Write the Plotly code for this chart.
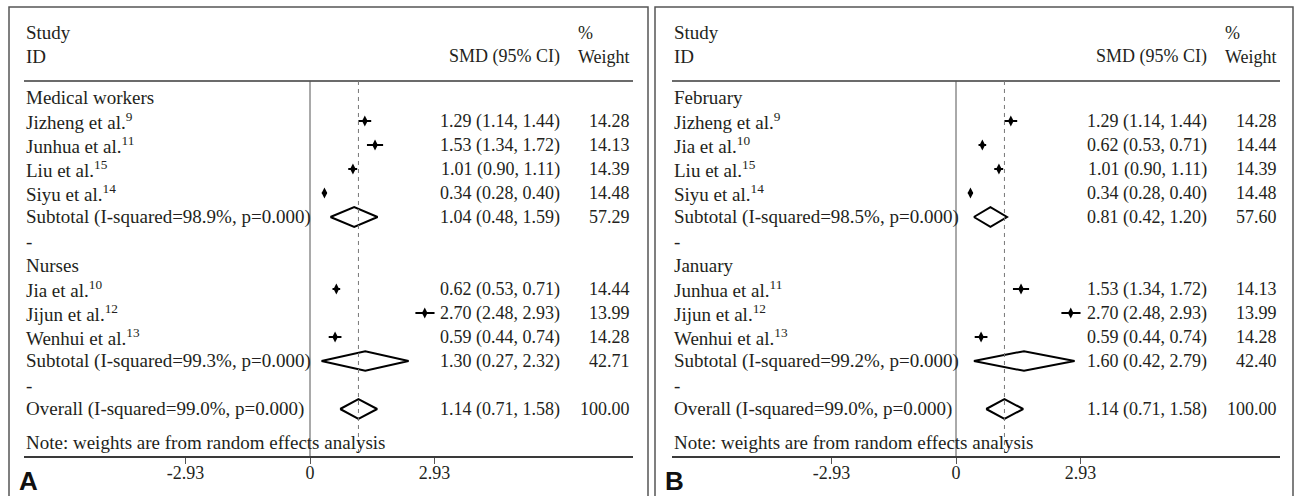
import plotly.graph_objects as go

W, H = 1295, 496

# ---------------- Panel A: subgroups by occupation ----------------
a_groups = ["Medical workers", "Nurses"]
a_studies = ["Jizheng et al.<sup>9</sup>", "Junhua et al.<sup>11</sup>",
             "Liu et al.<sup>15</sup>", "Siyu et al.<sup>14</sup>",
             "Jia et al.<sup>10</sup>", "Jijun et al.<sup>12</sup>",
             "Wenhui et al.<sup>13</sup>"]
a_group_of = [0, 0, 0, 0, 1, 1, 1]
a_smd = [1.29, 1.53, 1.01, 0.34, 0.62, 2.70, 0.59]
a_lo = [1.14, 1.34, 0.90, 0.28, 0.53, 2.48, 0.44]
a_hi = [1.44, 1.72, 1.11, 0.40, 0.71, 2.93, 0.74]
a_wt = [14.28, 14.13, 14.39, 14.48, 14.44, 13.99, 14.28]
a_sub_i2 = [98.9, 99.3]
a_sub_p = [0.000, 0.000]
a_sub_smd = [1.04, 1.30]
a_sub_lo = [0.48, 0.27]
a_sub_hi = [1.59, 2.32]
a_sub_wt = [57.29, 42.71]

# ---------------- Panel B: subgroups by survey month ----------------
b_groups = ["February", "January"]
b_studies = ["Jizheng et al.<sup>9</sup>", "Jia et al.<sup>10</sup>",
             "Liu et al.<sup>15</sup>", "Siyu et al.<sup>14</sup>",
             "Junhua et al.<sup>11</sup>", "Jijun et al.<sup>12</sup>",
             "Wenhui et al.<sup>13</sup>"]
b_group_of = [0, 0, 0, 0, 1, 1, 1]
b_smd = [1.29, 0.62, 1.01, 0.34, 1.53, 2.70, 0.59]
b_lo = [1.14, 0.53, 0.90, 0.28, 1.34, 2.48, 0.44]
b_hi = [1.44, 0.71, 1.11, 0.40, 1.72, 2.93, 0.74]
b_wt = [14.28, 14.44, 14.39, 14.48, 14.13, 13.99, 14.28]
b_sub_i2 = [98.5, 99.2]
b_sub_p = [0.000, 0.000]
b_sub_smd = [0.81, 1.60]
b_sub_lo = [0.42, 0.42]
b_sub_hi = [1.20, 2.79]
b_sub_wt = [57.60, 42.40]

# ---------------- Pooled estimate (both panels) ----------------
overall_i2 = 99.0
overall_p = 0.000
overall_smd = 1.14
overall_lo = 0.71
overall_hi = 1.58
overall_wt = 100.00

tick_vals = [-2.93, 0, 2.93]
tick_text = ["-2.93", "0", "2.93"]
panel_letters = ["A", "B"]

# ---------------- styling ----------------
SERIF = "Liberation Serif, Times New Roman, serif"
INK = "#231f20"
LINE = "#3a3a3a"
LABEL_SIZE = 19
NUM_SIZE = 18

# row geometry (pixel positions from the top of the canvas)
ROW0_PX, ROW_H, AXIS_PX, TOP_PX = 97, 24, 456, 7
AXIS_ROW = (AXIS_PX - ROW0_PX) / ROW_H
TOP_ROW = (TOP_PX - ROW0_PX) / ROW_H
HEAD_LINE_ROW = -0.667
DIAMOND_HALF = 0.41

# horizontal placement of each panel (pixels)
panels_px = [
    dict(left=24, right=633, zero=310, box=(9, 648)),
    dict(left=672, right=1280, zero=956, box=(655, 1293)),
]
PX_PER_UNIT = 42.5
SMD_COL = 0.8834     # right edge of the SMD column, fraction of the axis width
WT_COL = 0.999       # right edge of the weight column
PCT_COL = 0.906      # left edge of the "%" header

fig = go.Figure()
shapes, annotations = [], []


def fmt_ci(est, lo, hi):
    return f"{est:.2f} ({lo:.2f}, {hi:.2f})"


def add_text(text, xref, x, y, yref, anchor="left", size=LABEL_SIZE):
    annotations.append(dict(
        text=text, x=x, y=y, xref=xref, yref=yref, xanchor=anchor,
        yanchor="middle", showarrow=False,
        font=dict(family=SERIF, size=size, color=INK)))


def diamond(est, lo, hi, row, xa, ya):
    fig.add_trace(go.Scatter(
        x=[lo, est, hi, est, lo],
        y=[row, row - DIAMOND_HALF, row, row + DIAMOND_HALF, row],
        mode="lines", line=dict(color="black", width=2),
        hoverinfo="skip", showlegend=False, xaxis=xa, yaxis=ya))


def build_panel(k, groups, studies, group_of, smd, lo, hi, wt,
                sub_i2, sub_p, sub_smd, sub_lo, sub_hi, sub_wt):
    sfx = "" if k == 0 else str(k + 1)
    xa, ya = "x" + sfx, "y" + sfx
    xdom = xa + " domain"
    geo = panels_px[k]

    # header
    add_text("Study", xdom, 0, -2.67, ya)
    add_text("ID", xdom, 0, -1.67, ya)
    add_text("SMD (95% CI)", xdom, SMD_COL, -1.67, ya, "right", NUM_SIZE)
    add_text("%", xdom, PCT_COL, -2.67, ya, "left", NUM_SIZE)
    add_text("Weight", xdom, WT_COL, -1.67, ya, "right", NUM_SIZE)

    row = 0
    st_rows = []
    for g, name in enumerate(groups):
        add_text(name, xdom, 0, row, ya)
        row += 1
        for i, lab in enumerate(studies):
            if group_of[i] != g:
                continue
            add_text(lab, xdom, 0, row, ya)
            add_text(fmt_ci(smd[i], lo[i], hi[i]), xdom, SMD_COL, row, ya, "right", NUM_SIZE)
            add_text(f"{wt[i]:.2f}", xdom, WT_COL, row, ya, "right", NUM_SIZE)
            st_rows.append((i, row))
            row += 1
        add_text(f"Subtotal (I-squared={sub_i2[g]:.1f}%, p={sub_p[g]:.3f})", xdom, 0, row, ya)
        add_text(fmt_ci(sub_smd[g], sub_lo[g], sub_hi[g]), xdom, SMD_COL, row, ya, "right", NUM_SIZE)
        add_text(f"{sub_wt[g]:.2f}", xdom, WT_COL, row, ya, "right", NUM_SIZE)
        diamond(sub_smd[g], sub_lo[g], sub_hi[g], row, xa, ya)
        row += 1
        add_text("-", xdom, 0, row, ya)
        row += 1

    add_text(f"Overall (I-squared={overall_i2:.1f}%, p={overall_p:.3f})", xdom, 0, row, ya)
    add_text(fmt_ci(overall_smd, overall_lo, overall_hi), xdom, SMD_COL, row, ya, "right", NUM_SIZE)
    add_text(f"{overall_wt:.2f}", xdom, WT_COL, row, ya, "right", NUM_SIZE)
    diamond(overall_smd, overall_lo, overall_hi, row, xa, ya)
    add_text("Note: weights are from random effects analysis", xdom, 0, row + 1.375, ya)

    # individual study estimates with 95% CI
    idx = [i for i, _ in st_rows]
    rows = [r for _, r in st_rows]
    fig.add_trace(go.Scatter(
        x=[smd[i] for i in idx], y=rows, mode="markers",
        marker=dict(symbol="diamond-tall", size=8, color="black"),
        error_x=dict(type="data", symmetric=False,
                     array=[hi[i] - smd[i] for i in idx],
                     arrayminus=[smd[i] - lo[i] for i in idx],
                     thickness=2, width=0, color="black"),
        hoverinfo="skip", showlegend=False, xaxis=xa, yaxis=ya))

    # header rule, no-effect line, pooled-effect dashed line
    shapes.append(dict(type="line", xref=xdom, yref=ya, x0=0, x1=1,
                       y0=HEAD_LINE_ROW, y1=HEAD_LINE_ROW,
                       line=dict(color=LINE, width=1.5)))
    shapes.append(dict(type="line", xref=xa, yref=ya, x0=0, x1=0,
                       y0=HEAD_LINE_ROW, y1=AXIS_ROW,
                       line=dict(color="#555555", width=1)))
    shapes.append(dict(type="line", xref=xa, yref=ya, x0=overall_smd, x1=overall_smd,
                       y0=HEAD_LINE_ROW, y1=AXIS_ROW,
                       line=dict(color="#777777", width=1, dash="4px,4px")))

    # panel frame (bottom edge runs off the canvas)
    bx0, bx1 = geo["box"]
    shapes.append(dict(type="rect", xref="paper", yref="paper",
                       x0=bx0 / W, x1=bx1 / W, y0=-0.05, y1=1 - TOP_PX / H,
                       line=dict(color="#555555", width=1.5), layer="below"))

    annotations.append(dict(
        text=f"<b>{panel_letters[k]}</b>", xref="paper", yref="paper",
        x=(bx0 + 8) / W, y=1 - 481 / H, xanchor="left", yanchor="middle",
        showarrow=False, font=dict(family="Liberation Sans, Arial, sans-serif",
                                   size=26, color="#111111")))

    rng = [(geo["left"] - geo["zero"]) / PX_PER_UNIT, (geo["right"] - geo["zero"]) / PX_PER_UNIT]
    fig.layout["xaxis" + sfx] = dict(
        domain=[geo["left"] / W, geo["right"] / W], range=rng, anchor=ya,
        showgrid=False, zeroline=False, showline=True, linecolor=LINE, linewidth=1.5,
        ticks="outside", ticklen=6, tickwidth=1, tickcolor="#555555",
        tickvals=tick_vals, ticktext=tick_text, fixedrange=True,
        ticklabelstandoff=-6,
        tickfont=dict(family=SERIF, size=18, color=INK))
    fig.layout["yaxis" + sfx] = dict(
        domain=[1 - AXIS_PX / H, 1 - TOP_PX / H], range=[AXIS_ROW, TOP_ROW],
        anchor=xa, visible=False, fixedrange=True)


build_panel(0, a_groups, a_studies, a_group_of, a_smd, a_lo, a_hi, a_wt,
            a_sub_i2, a_sub_p, a_sub_smd, a_sub_lo, a_sub_hi, a_sub_wt)
build_panel(1, b_groups, b_studies, b_group_of, b_smd, b_lo, b_hi, b_wt,
            b_sub_i2, b_sub_p, b_sub_smd, b_sub_lo, b_sub_hi, b_sub_wt)

fig.update_layout(
    width=W, height=H, margin=dict(l=0, r=0, t=0, b=0),
    paper_bgcolor="white", plot_bgcolor="white",
    font=dict(family=SERIF, size=18, color=INK),
    shapes=shapes, annotations=annotations, showlegend=False)

fig.write_html("out.html", config={"displayModeBar": False})
